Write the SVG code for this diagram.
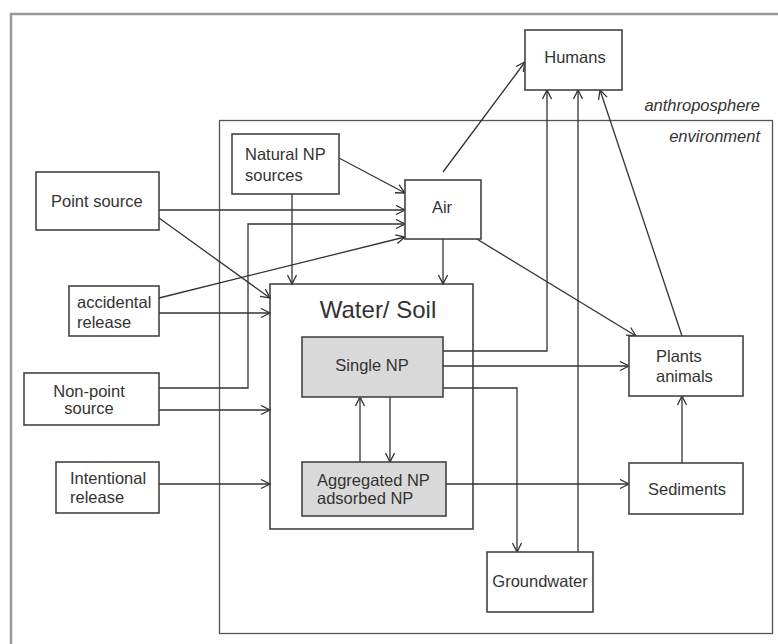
<svg xmlns="http://www.w3.org/2000/svg" width="778" height="644" viewBox="0 0 778 644">
<defs>
<marker id="ah" markerUnits="userSpaceOnUse" markerWidth="12" markerHeight="12" refX="10" refY="5" orient="auto">
<path d="M1,0.5 L10,5 L1,9.5" fill="none" stroke="#333" stroke-width="1.3"/>
</marker>
</defs>
<style>
.box{fill:#fff;stroke:#444;stroke-width:1.6}
.grey{fill:#d9d9d9;stroke:#444;stroke-width:1.6}
text{font-family:"Liberation Sans",Arial,sans-serif;font-size:16.5px;fill:#333}
.c{text-anchor:middle}
.it{font-style:italic;text-anchor:end}
.ln{fill:none;stroke:#333;stroke-width:1.3;marker-end:url(#ah)}
</style>
<rect width="778" height="644" fill="#fff"/>
<g id="anthroposphere">
<rect x="11" y="14" width="790" height="660" fill="none" stroke="#9a9a9a" stroke-width="2.5"/>
<text class="it" x="760" y="111">anthroposphere</text>
</g>
<g id="environment">
<rect x="219.5" y="120.5" width="553" height="513" fill="none" stroke="#555" stroke-width="1.3"/>
<text class="it" x="760" y="142">environment</text>
</g>
<g id="water-soil">
<rect class="box" x="270" y="284" width="203" height="245"/>
<text class="c" x="378" y="318" style="font-size:24px">Water/ Soil</text>
</g>
<g id="connectors">
<line class="ln" x1="339" y1="158" x2="405" y2="193"/>
<line class="ln" x1="159" y1="210" x2="405" y2="210"/>
<polyline class="ln" points="159,388 248,388 248,224 405,224"/>
<line class="ln" x1="159" y1="298" x2="405" y2="237"/>
<line class="ln" x1="292" y1="194" x2="292" y2="284"/>
<line class="ln" x1="159" y1="218" x2="270" y2="298"/>
<line class="ln" x1="159" y1="313" x2="270" y2="313"/>
<line class="ln" x1="159" y1="410" x2="270" y2="410"/>
<line class="ln" x1="159" y1="484" x2="270" y2="484"/>
<line class="ln" x1="443" y1="239" x2="443" y2="284"/>
<line class="ln" x1="443" y1="172" x2="525" y2="62"/>
<line class="ln" x1="467" y1="233" x2="636" y2="336"/>
<polyline class="ln" points="443,351 547,351 547,90"/>
<line class="ln" x1="578" y1="552" x2="578" y2="90"/>
<line class="ln" x1="682" y1="336" x2="600" y2="90"/>
<line class="ln" x1="443" y1="366" x2="629" y2="366"/>
<polyline class="ln" points="443,388 517,388 517,552"/>
<line class="ln" x1="446" y1="484" x2="629" y2="484"/>
<line class="ln" x1="682" y1="463" x2="682" y2="396"/>
<line class="ln" x1="360" y1="462" x2="360" y2="397"/>
<line class="ln" x1="390" y1="397" x2="390" y2="462"/>
</g>
<g id="humans">
<rect class="box" x="525" y="30" width="97" height="60"/>
<text class="c" x="575" y="63">Humans</text>
</g>
<g id="natural-np-sources">
<rect class="box" x="232" y="134" width="107" height="60"/>
<text x="245" y="160">Natural NP</text>
<text x="245" y="181">sources</text>
</g>
<g id="point-source">
<rect class="box" x="36" y="172" width="123" height="58"/>
<text x="51" y="207">Point source</text>
</g>
<g id="air">
<rect class="box" x="405" y="180" width="76" height="59"/>
<text class="c" x="442" y="213">Air</text>
</g>
<g id="accidental-release">
<rect class="box" x="69" y="286" width="90" height="50"/>
<text x="77" y="308">accidental</text>
<text x="77" y="328">release</text>
</g>
<g id="non-point-source">
<rect class="box" x="24" y="373" width="135" height="52"/>
<text class="c" x="89" y="397">Non-point</text>
<text class="c" x="89" y="414">source</text>
</g>
<g id="intentional-release">
<rect class="box" x="56" y="462" width="103" height="51"/>
<text x="70" y="484">Intentional</text>
<text x="70" y="503">release</text>
</g>
<g id="single-np">
<rect class="grey" x="302" y="337" width="141" height="60"/>
<text class="c" x="372" y="371">Single NP</text>
</g>
<g id="aggregated-np">
<rect class="grey" x="302" y="462" width="144" height="54"/>
<text x="317" y="486">Aggregated NP</text>
<text x="317" y="504">adsorbed NP</text>
</g>
<g id="plants-animals">
<rect class="box" x="629" y="336" width="114" height="60"/>
<text x="656" y="362">Plants</text>
<text x="656" y="382">animals</text>
</g>
<g id="sediments">
<rect class="box" x="629" y="463" width="114" height="51"/>
<text class="c" x="687" y="495">Sediments</text>
</g>
<g id="groundwater">
<rect class="box" x="487" y="552" width="106" height="60"/>
<text class="c" x="540" y="587">Groundwater</text>
</g>
</svg>
